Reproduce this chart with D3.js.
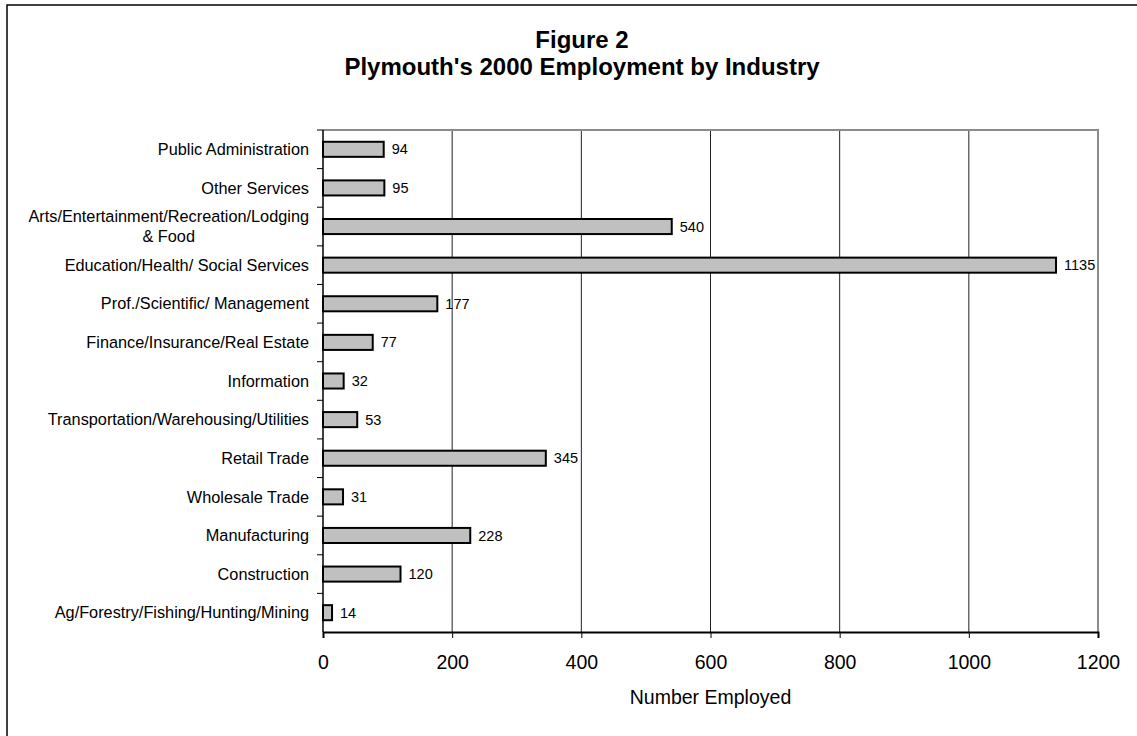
<!DOCTYPE html>
<html>
<head>
<meta charset="utf-8">
<script src="https://cdn.jsdelivr.net/npm/d3@7"></script>
<style>
  html, body { margin: 0; padding: 0; background: #fff; }
  svg { display: block; font-family: "Liberation Sans", Arial, sans-serif; }
</style>
</head>
<body>
<div id="chart"></div>
<script>
const width = 1137;
const height = 736;

// Data, top to bottom as in the figure
const industries = [
  "Public Administration",
  "Other Services",
  "Arts/Entertainment/Recreation/Lodging|& Food",
  "Education/Health/ Social Services",
  "Prof./Scientific/ Management",
  "Finance/Insurance/Real Estate",
  "Information",
  "Transportation/Warehousing/Utilities",
  "Retail Trade",
  "Wholesale Trade",
  "Manufacturing",
  "Construction",
  "Ag/Forestry/Fishing/Hunting/Mining"
];
const employed = [94, 95, 540, 1135, 177, 77, 32, 53, 345, 31, 228, 120, 14];
const xTicks = [0, 200, 400, 600, 800, 1000, 1200];

const titleLines = ["Figure 2", "Plymouth's 2000 Employment by Industry"];
const xTitle = "Number Employed";

const plot = { left: 323, right: 1098, top: 130, bottom: 632 };

const x = d3.scaleLinear().domain([0, 1200]).range([plot.left, plot.right]);
const y = d3.scaleBand().domain(industries).range([plot.top, plot.bottom]).paddingInner(0.61).paddingOuter(0.305);
const yStep = d3.scaleBand().domain(industries).range([plot.top, plot.bottom]);

const svg = d3.select("#chart")
  .append("svg")
  .attr("width", width)
  .attr("height", height)
  .attr("viewBox", `0 0 ${width} ${height}`);

// outer frame (runs off the right and bottom edges)
svg.append("rect")
  .attr("x", 7).attr("y", 5)
  .attr("width", 1200).attr("height", 800)
  .attr("fill", "none")
  .attr("stroke", "#000")
  .attr("stroke-width", 1.5);

// title
svg.append("g")
  .selectAll("text")
  .data(titleLines)
  .join("text")
  .attr("x", 582)
  .attr("y", (d, i) => 48 + i * 27)
  .attr("text-anchor", "middle")
  .attr("font-weight", "bold")
  .attr("font-size", 24)
  .text(d => d);

// vertical gridlines
svg.append("g")
  .selectAll("line")
  .data(xTicks.slice(1, -1))
  .join("line")
  .attr("x1", d => x(d)).attr("x2", d => x(d))
  .attr("y1", plot.top).attr("y2", plot.bottom)
  .attr("stroke", "#222")
  .attr("stroke-width", 1);

// plot border top and right (gray)
svg.append("path")
  .attr("d", `M${plot.left},${plot.top}H${plot.right}V${plot.bottom}`)
  .attr("fill", "none")
  .attr("stroke", "#8c8c8c")
  .attr("stroke-width", 2);

// bars
svg.append("g")
  .selectAll("rect")
  .data(industries)
  .join("rect")
  .attr("x", x(0))
  .attr("y", d => y(d))
  .attr("width", (d, i) => x(employed[i]) - x(0))
  .attr("height", y.bandwidth())
  .attr("fill", "#c0c0c0")
  .attr("stroke", "#000")
  .attr("stroke-width", 2);

// value labels
svg.append("g")
  .selectAll("text")
  .data(industries)
  .join("text")
  .attr("x", (d, i) => x(employed[i]) + 8)
  .attr("y", d => y(d) + y.bandwidth() / 2)
  .attr("dy", "0.35em")
  .attr("font-size", 14.5)
  .text((d, i) => employed[i]);

// x axis
const xAxis = svg.append("g")
  .attr("transform", `translate(0,${plot.bottom})`)
  .call(d3.axisBottom(x).tickValues(xTicks).tickSize(6).tickFormat(d3.format("d")));
xAxis.select(".domain").attr("stroke", "#000").attr("stroke-width", 2);
xAxis.selectAll(".tick line").attr("stroke", "#000");
xAxis.selectAll("text")
  .attr("y", 37).attr("dy", null)
  .attr("font-size", 19.5).attr("fill", "#000")
  .attr("font-family", "'Liberation Sans', Arial, sans-serif");

// y axis line with ticks at category boundaries
svg.append("line")
  .attr("x1", plot.left).attr("x2", plot.left)
  .attr("y1", plot.top).attr("y2", plot.bottom)
  .attr("stroke", "#000").attr("stroke-width", 1.5);
svg.append("g")
  .selectAll("line")
  .data(industries)
  .join("line")
  .attr("x1", plot.left - 6).attr("x2", plot.left)
  .attr("y1", d => yStep(d)).attr("y2", d => yStep(d))
  .attr("stroke", "#000");

// category labels
const labelRight = 309;
const labels = svg.append("g")
  .attr("font-size", 16.3)
  .selectAll("text")
  .data(industries)
  .join("text")
  .attr("y", d => yStep(d) + yStep.bandwidth() / 2);

labels.each(function(d) {
  const lines = d.split("|");
  const t = d3.select(this);
  if (lines.length === 1) {
    t.attr("x", labelRight).attr("text-anchor", "end").attr("dy", "0.35em").text(d);
  } else {
    t.attr("text-anchor", "middle");
    const spans = lines.map((s, i) => t.append("tspan")
      .attr("dy", i === 0 ? `${0.35 - 0.62}em` : "1.24em")
      .text(s));
    const w = d3.max(spans, s => s.node().getComputedTextLength());
    spans.forEach(s => s.attr("x", labelRight - w / 2));
  }
});

// x axis title
svg.append("text")
  .attr("x", (plot.left + plot.right) / 2)
  .attr("y", 704)
  .attr("text-anchor", "middle")
  .attr("font-size", 19.5)
  .text(xTitle);
</script>
</body>
</html>
